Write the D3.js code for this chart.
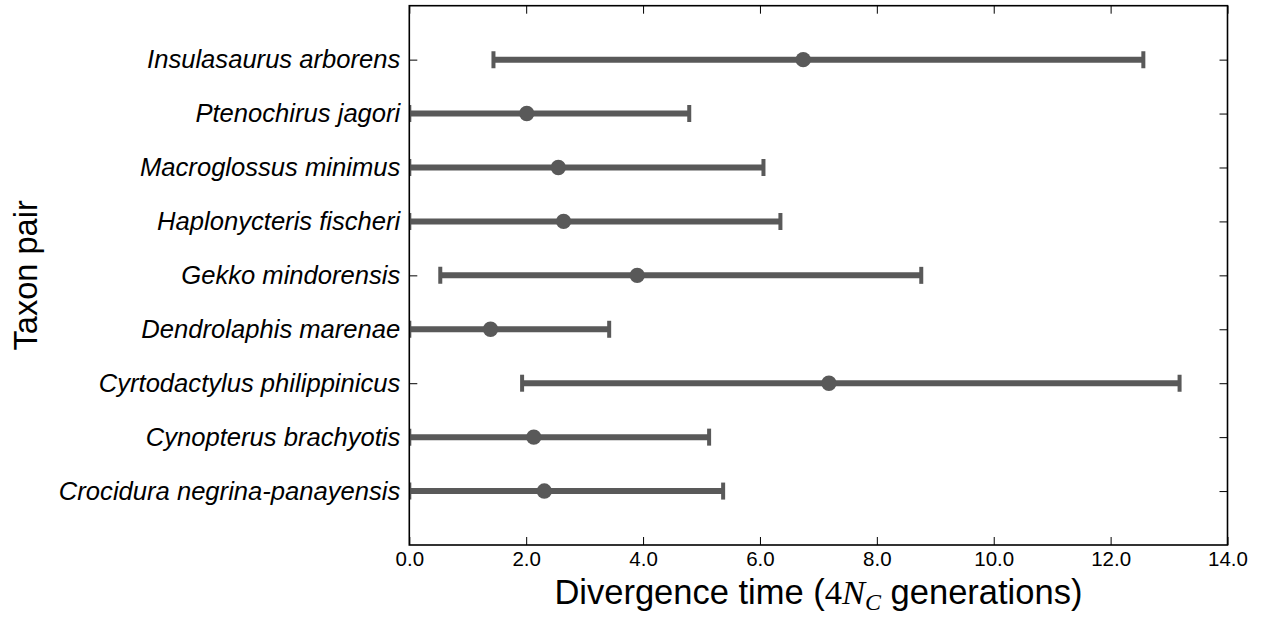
<!DOCTYPE html>
<html>
<head>
<meta charset="utf-8">
<script src="https://cdn.jsdelivr.net/npm/d3@7"></script>
<style>
  body { margin: 0; background: #fff; }
  svg { display: block; }
</style>
</head>
<body>
<svg id="chart" width="1261" height="617"></svg>
<script>
// Data (bottom to top)
const taxa = [
  "Crocidura negrina-panayensis",
  "Cynopterus brachyotis",
  "Cyrtodactylus philippinicus",
  "Dendrolaphis marenae",
  "Gekko mindorensis",
  "Haplonycteris fischeri",
  "Macroglossus minimus",
  "Ptenochirus jagori",
  "Insulasaurus arborens"
];
const estimate = [2.31, 2.13, 7.18, 1.39, 3.90, 2.64, 2.55, 2.01, 6.74];
const lower    = [0.0, 0.0, 1.93, 0.0, 0.53, 0.0, 0.0, 0.0, 1.44];
const upper    = [5.37, 5.13, 13.18, 3.42, 8.76, 6.35, 6.06, 4.79, 12.56];
const xTicks = [0, 2, 4, 6, 8, 10, 12, 14];

const svg = d3.select("#chart");
const L = 409.3, R = 1227.5, T = 5.7, B = 545;
const color = "#595959";

const x = d3.scaleLinear().domain([0, 14]).range([L, R]);
const y = d3.scaleLinear().domain([-1, 9]).range([B, T]);

svg.append("defs").append("clipPath").attr("id", "clip")
  .append("rect").attr("x", L).attr("y", T).attr("width", R - L).attr("height", B - T);

const fontSans = "'Liberation Sans', Arial, Helvetica, sans-serif";
const fontSerif = "'Liberation Serif', 'DejaVu Serif', serif";

// Axes
const gx = svg.append("g").attr("transform", `translate(0,${B})`)
  .call(d3.axisBottom(x).tickValues(xTicks).tickFormat(d3.format(".1f")).tickSize(-8).tickPadding(6));
const gxTop = svg.append("g").attr("transform", `translate(0,${T})`)
  .call(d3.axisTop(x).tickValues(xTicks).tickFormat("").tickSize(-8));
const gy = svg.append("g").attr("transform", `translate(${L},0)`)
  .call(d3.axisLeft(y).tickValues(d3.range(taxa.length)).tickFormat(i => taxa[i]).tickSize(-8).tickPadding(9));
const gyR = svg.append("g").attr("transform", `translate(${R},0)`)
  .call(d3.axisRight(y).tickValues(d3.range(taxa.length)).tickFormat("").tickSize(-8));

[gx, gxTop, gy, gyR].forEach(g => {
  g.select(".domain").remove();
  g.selectAll(".tick line").attr("stroke", "#000").attr("stroke-width", 1);
});
gx.selectAll(".tick text").attr("font-family", fontSans).attr("font-size", 20.5).attr("fill", "#000");
gy.selectAll(".tick text").attr("font-family", fontSans).attr("font-size", 25.6)
  .attr("font-style", "italic").attr("fill", "#000");

// Error bars
const rows = d3.range(taxa.length);
const marks = svg.append("g").attr("clip-path", "url(#clip)");
marks.selectAll("line.bar").data(rows).join("line")
  .attr("class", "bar")
  .attr("x1", i => x(lower[i])).attr("x2", i => x(upper[i]))
  .attr("y1", i => y(i)).attr("y2", i => y(i))
  .attr("stroke", color).attr("stroke-width", 6);
marks.selectAll("line.capl").data(rows).join("line")
  .attr("class", "capl")
  .attr("x1", i => x(lower[i])).attr("x2", i => x(lower[i]))
  .attr("y1", i => y(i) - 8.5).attr("y2", i => y(i) + 8.5)
  .attr("stroke", color).attr("stroke-width", 4);
marks.selectAll("line.capu").data(rows).join("line")
  .attr("class", "capu")
  .attr("x1", i => x(upper[i])).attr("x2", i => x(upper[i]))
  .attr("y1", i => y(i) - 8.5).attr("y2", i => y(i) + 8.5)
  .attr("stroke", color).attr("stroke-width", 4);
marks.selectAll("circle").data(rows).join("circle")
  .attr("cx", i => x(estimate[i])).attr("cy", i => y(i)).attr("r", 7.7)
  .attr("fill", color);

// Frame
svg.append("rect").attr("x", L).attr("y", T).attr("width", R - L).attr("height", B - T)
  .attr("fill", "none").attr("stroke", "#000").attr("stroke-width", 1.6);

// X label
const xl = svg.append("text").attr("x", (L + R) / 2).attr("y", 604)
  .attr("text-anchor", "middle").attr("font-family", fontSans).attr("font-size", 34.5).attr("fill", "#000");
xl.append("tspan").text("Divergence time (");
xl.append("tspan").attr("font-family", fontSerif).text("4");
xl.append("tspan").attr("font-family", fontSerif).attr("font-style", "italic").text("N");
xl.append("tspan").attr("font-family", fontSerif).attr("font-style", "italic")
  .attr("font-size", 24).attr("dy", 6).text("C");
xl.append("tspan").attr("dy", -6).text(" generations)");

// Y label
svg.append("text").attr("transform", `translate(37,${(T + B) / 2}) rotate(-90)`)
  .attr("text-anchor", "middle").attr("font-family", fontSans).attr("font-size", 32.6).attr("fill", "#000")
  .text("Taxon pair");
</script>
</body>
</html>
